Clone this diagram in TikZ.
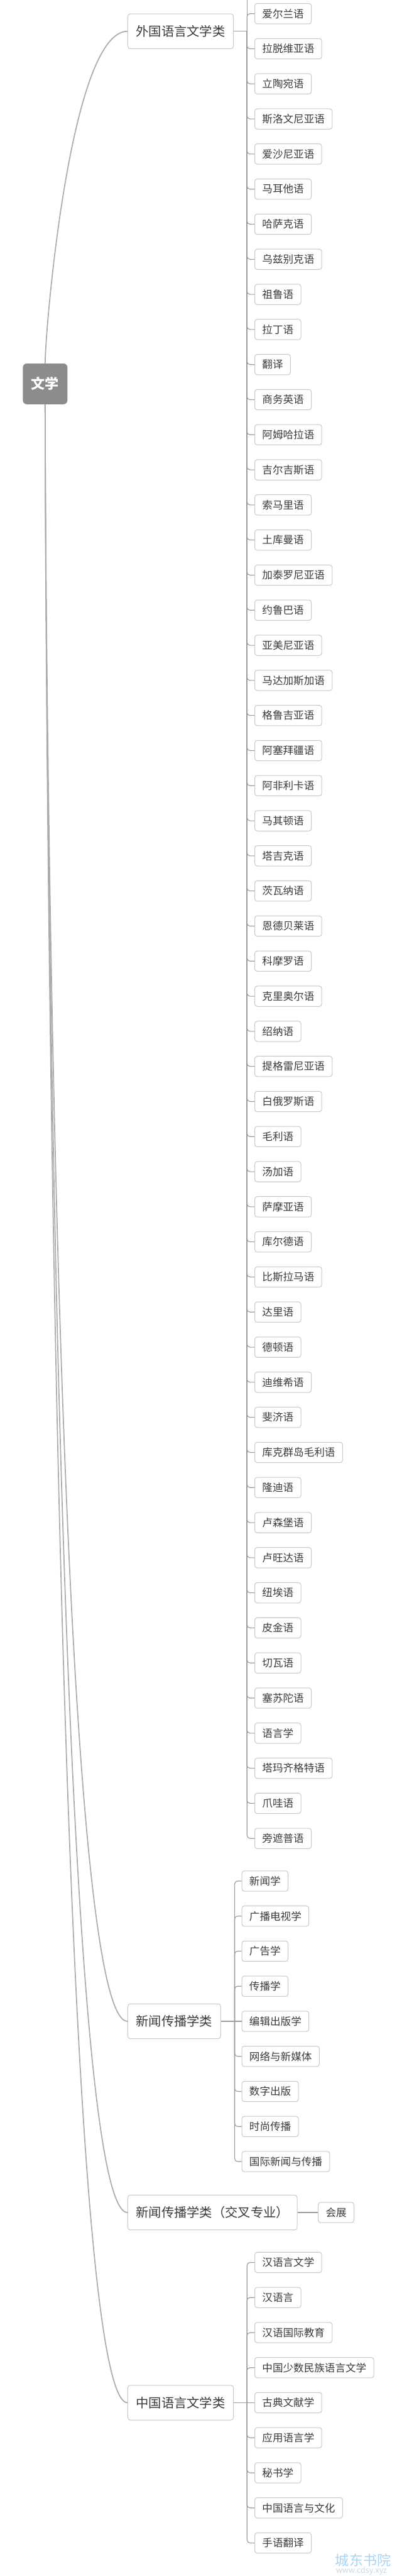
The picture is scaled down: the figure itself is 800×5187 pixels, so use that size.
\documentclass[tikz,border=0pt]{standalone}
\usepackage{fontspec}
\newfontfamily\cjk{Noto Sans CJK SC}
\definecolor{linec}{HTML}{ABABAB}
\definecolor{branchc}{HTML}{9C9C9C}
\definecolor{borderc}{HTML}{C8C8C8}
\definecolor{textc}{HTML}{3A3A3A}
\definecolor{rootc}{HTML}{8C8C8C}
\definecolor{wmblue}{HTML}{A9D4F4}
\definecolor{wmgray}{HTML}{CBD7E3}
\begin{document}
\begin{tikzpicture}[x=1pt,y=-1pt,
  box/.style={draw=borderc, line width=1.3pt, rounded corners=5pt, fill=white, text=textc, inner ysep=0pt},
  leaf/.style={box, font=\cjk\fontsize{21}{21}\selectfont, inner xsep=15pt, minimum height=41pt, anchor=west},
  cat/.style={box, font=\cjk\fontsize{25.7}{25.7}\selectfont, inner xsep=16.5pt, minimum height=70pt, anchor=west},
  rootbox/.style={fill=rootc, rounded corners=8pt, text=white, font=\cjk\bfseries\fontsize{28}{28}\selectfont, minimum width=90pt, minimum height=82pt, inner sep=0pt},
  curve/.style={draw=linec, line width=2.2pt},
  branch/.style={draw=branchc, line width=1.4pt, rounded corners=6pt},
  wm/.style={anchor=west, inner sep=0pt}
]
\useasboundingbox (0,0) rectangle (800,5187);
\fill[white] (0,0) rectangle (800,5187);

% root and categories
\node[rootbox] (root) at (91,773) {文学};
\node[cat] (fcat) at (257,63) {外国语言文学类};
\node[cat] (ncat) at (257,4070) {新闻传播学类};
\node[cat] (xcat) at (257,4455) {新闻传播学类（交叉专业）};
\node[cat] (ccat) at (257,4838) {中国语言文学类};
\node[leaf] (hz) at (641,4455) {会展};

\coordinate (fj) at (498,63);
\coordinate (ftop) at (498,0);
\coordinate (nj) at (473,4070);
\coordinate (cj) at (498,4838);

% curves from root
\draw[curve] (root.north) .. controls +(0,-67) and +(-115.5,0) .. (fcat.west);
\draw[curve] (root.south) .. controls +(0,325) and +(-149.5,0) .. (ncat.west);
\draw[curve] (root.south) .. controls +(0,364) and +(-149.5,0) .. (xcat.west);
\draw[curve] (root.south) .. controls +(0,402) and +(-149.5,0) .. (ccat.west);

% foreign languages
\draw[branch] (fcat.east) -- (fj);
\draw[branch] (fj) -- (ftop);
\foreach \t [count=\i from 0] in {爱尔兰语,拉脱维亚语,立陶宛语,斯洛文尼亚语,爱沙尼亚语,马耳他语,哈萨克语,乌兹别克语,祖鲁语,拉丁语,翻译,商务英语,阿姆哈拉语,吉尔吉斯语,索马里语,土库曼语,加泰罗尼亚语,约鲁巴语,亚美尼亚语,马达加斯加语,格鲁吉亚语,阿塞拜疆语,阿非利卡语,马其顿语,塔吉克语,茨瓦纳语,恩德贝莱语,科摩罗语,克里奥尔语,绍纳语,提格雷尼亚语,白俄罗斯语,毛利语,汤加语,萨摩亚语,库尔德语,比斯拉马语,达里语,德顿语,迪维希语,斐济语,库克群岛毛利语,隆迪语,卢森堡语,卢旺达语,纽埃语,皮金语,切瓦语,塞苏陀语,语言学,塔玛齐格特语,爪哇语,旁遮普语}{
  \node[leaf] (f\i) at (513,{27.5+70.66*\i}) {\t};
  \draw[branch] (fj) |- (f\i.west);
}

% journalism
\foreach \t [count=\i from 0] in {新闻学,广播电视学,广告学,传播学,编辑出版学,网络与新媒体,数字出版,时尚传播,国际新闻与传播}{
  \node[leaf] (n\i) at (487,{4070+70.6*(\i-4)}) {\t};
  \ifnum\i=4 \else \draw[branch] (nj) |- (n\i.west); \fi
}
\draw[branch] (ncat.east) -- (n4.west);

% cross discipline
\draw[branch] (xcat.east) -- (hz.west);

% Chinese language and literature
\foreach \t [count=\i from 0] in {汉语言文学,汉语言,汉语国际教育,中国少数民族语言文学,古典文献学,应用语言学,秘书学,中国语言与文化,手语翻译}{
  \node[leaf] (c\i) at (513,{4838+70.6*(\i-4)}) {\t};
  \ifnum\i=4 \else \draw[branch] (cj) |- (c\i.west); \fi
}
\draw[branch] (ccat.east) -- (c4.west);

% watermark
\node[wm, text=wmblue, font=\cjk\fontsize{28}{28}\selectfont] (wm1) at (676,5155) {城东书院};
\node[wm, text=wmgray, font=\cjk\fontsize{16}{16}\selectfont] (wm2) at (677,5177) {www.cdsy.xyz};
\end{tikzpicture}
\end{document}
